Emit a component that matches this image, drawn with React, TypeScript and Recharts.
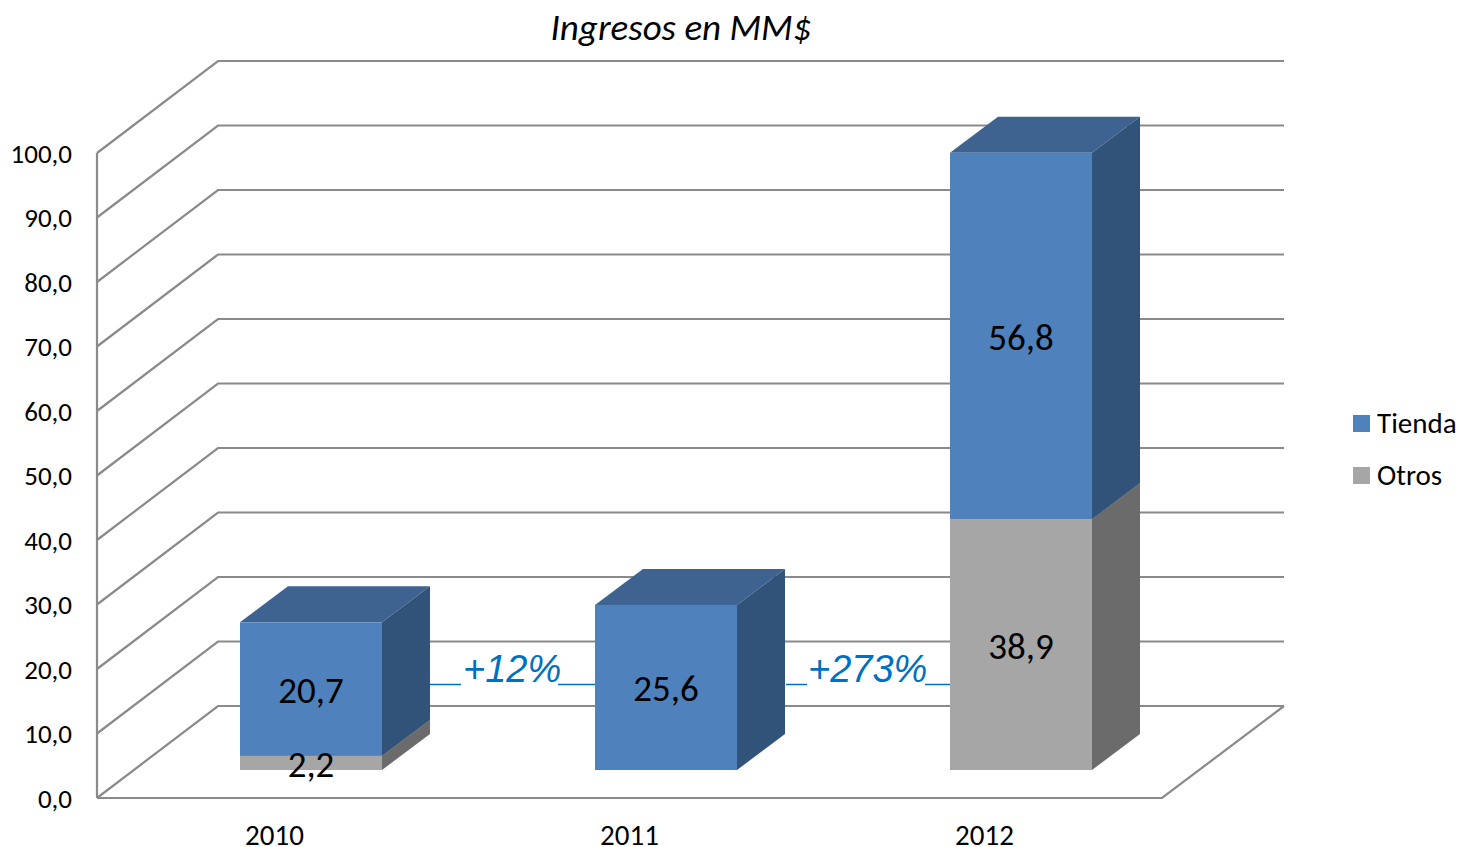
import { BarChart, Bar, XAxis, YAxis, CartesianGrid, Legend, LabelList } from "recharts";

const years = ["2010", "2011", "2012"];
const tienda = [20.7, 25.6, 56.8];
const otros = [2.2, 0, 38.9];
const yTicks = [0, 10, 20, 30, 40, 50, 60, 70, 80, 90, 100];

const data = years.map((year, i) => ({ year, tienda: tienda[i], otros: otros[i] }));

const legendItems = [
  { name: "Tienda", color: "#4f81bd" },
  { name: "Otros", color: "#a6a6a6" },
];

const FONT = "Carlito, Lato, sans-serif";
const GRID = "#8a8a8a";

// fake 3D: depth of the walls and of the bars, in pixels
const WALL_DX = 121;
const WALL_DY = 92;
const BAR_DX = 48;
const BAR_DY = 36;
// bars stand in the middle of the floor, not on the front edge
const BAR_SHIFT_X = 36;
const BAR_SHIFT_Y = 28;

const fmt = (v: number) => v.toFixed(1).replace(".", ",");

function Box3D(props: any) {
  const { x, y, width, height, front, side, top } = props;
  if (!height || height <= 0) return null;
  const l = x + BAR_SHIFT_X;
  const r = l + width;
  const t = y - BAR_SHIFT_Y;
  const b = t + height;
  return (
    <g>
      <polygon points={`${l},${t} ${r},${t} ${r + BAR_DX},${t - BAR_DY} ${l + BAR_DX},${t - BAR_DY}`} fill={top} />
      <polygon points={`${r},${t} ${r + BAR_DX},${t - BAR_DY} ${r + BAR_DX},${b - BAR_DY} ${r},${b}`} fill={side} />
      <rect x={l} y={t} width={width} height={height} fill={front} />
    </g>
  );
}

function BoxLabel(props: any) {
  const { x, y, width, height, value } = props;
  if (!value) return null;
  return (
    <text
      x={x + BAR_SHIFT_X + width / 2}
      y={y - BAR_SHIFT_Y + height / 2 + 1.5}
      textAnchor="middle"
      dominantBaseline="central"
      fontFamily={FONT}
      fontSize={37}
      fill="#000"
    >
      {fmt(value)}
    </text>
  );
}

// slanted wall line + back wall line, the zero line also closes the floor
function WallLine(props: any) {
  const { x1, x2, y1, index } = props;
  const bx = x1 + WALL_DX;
  const by = y1 - WALL_DY;
  const pts = `${x1},${y1} ${bx},${by} ${x2 + WALL_DX + 1},${by}`;
  const isFloor = Math.abs(y1 - 798) < 1;
  return (
    <g key={index}>
      <polyline points={pts} fill="none" stroke={GRID} strokeWidth={2.2} />
      {isFloor && (
        <polyline
          points={`${x1},${y1} ${x2},${y1} ${x2 + WALL_DX + 1},${by}`}
          fill="none"
          stroke={GRID}
          strokeWidth={2.2}
        />
      )}
    </g>
  );
}

function Growth({ text, x, lineFrom, lineTo, lineFrom2, lineTo2 }: any) {
  return (
    <g>
      <line x1={lineFrom} x2={lineTo} y1={684.5} y2={684.5} stroke="#0070c0" strokeWidth={1.5} />
      <line x1={lineFrom2} x2={lineTo2} y1={684.5} y2={684.5} stroke="#0070c0" strokeWidth={1.5} />
      <text x={x} y={682} fontFamily="'Liberation Sans', Arial, sans-serif" fontStyle="italic" fontSize={38} fill="#0070c0">
        {text}
      </text>
    </g>
  );
}

function LegendBox() {
  return (
    <div style={{ fontFamily: FONT, fontSize: 29, color: "#000" }}>
      {legendItems.map((it) => (
        <div key={it.name} style={{ display: "flex", alignItems: "center", height: 52 }}>
          <span style={{ width: 17, height: 17, background: it.color, marginRight: 7 }} />
          <span>{it.name}</span>
        </div>
      ))}
    </div>
  );
}

export default function App() {
  return (
    <div style={{ position: "absolute", left: 0, top: 0, width: 1460, height: 847, background: "#fff" }}>
      <BarChart
        width={1460}
        height={847}
        data={data}
        margin={{ top: 153, right: 191, bottom: 0, left: 0 }}
      >
        <CartesianGrid horizontal={(p: any) => <WallLine {...p} />} vertical={false} />
        <XAxis
          dataKey="year"
          axisLine={false}
          tickLine={false}
          height={49}
          tickMargin={20}
          tick={{ fontFamily: FONT, fontSize: 29, fill: "#000" }}
        />
        <YAxis
          width={97}
          domain={[0, 100]}
          ticks={yTicks}
          interval={0}
          tickLine={false}
          axisLine={{ stroke: GRID, strokeWidth: 2.2 }}
          tickFormatter={fmt}
          tickMargin={19}
          tick={{ fontFamily: FONT, fontSize: 27, fill: "#000" }}
        />
        <Legend
          layout="vertical"
          align="right"
          verticalAlign="top"
          width={107}
          wrapperStyle={{ left: 1353, top: 397 }}
          content={<LegendBox />}
        />
        <Bar
          dataKey="otros"
          stackId="a"
          barSize={142}
          isAnimationActive={false}
          shape={(p: any) => <Box3D {...p} front="#a6a6a6" side="#6b6b6b" top="#7d7d7d" />}
        >
          <LabelList dataKey="otros" content={<BoxLabel />} />
        </Bar>
        <Bar
          dataKey="tienda"
          stackId="a"
          barSize={142}
          isAnimationActive={false}
          shape={(p: any) => <Box3D {...p} front="#4f81bd" side="#325379" top="#3e6390" />}
        >
          <LabelList dataKey="tienda" content={<BoxLabel />} />
        </Bar>
        <Growth text="+12%" x={463} lineFrom={430} lineTo={461} lineFrom2={558} lineTo2={595} />
        <Growth text="+273%" x={808} lineFrom={786} lineTo={807} lineFrom2={925} lineTo2={950} />
        <text x={681} y={40} textAnchor="middle" fontFamily={FONT} fontStyle="italic" fontSize={37} fill="#000">
          Ingresos en MM$
        </text>
      </BarChart>
    </div>
  );
}
